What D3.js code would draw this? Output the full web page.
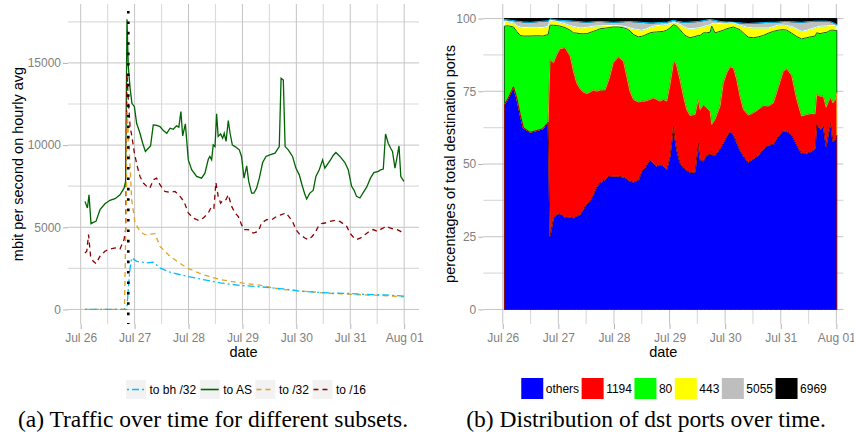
<!DOCTYPE html>
<html>
<head>
<meta charset="utf-8">
<script src="https://cdn.jsdelivr.net/npm/d3@7"></script>
<style>
  body { margin: 0; background: #fff; }
  svg { display: block; font-family: "Liberation Sans", Arial, sans-serif; }
</style>
</head>
<body>
<svg width="854" height="439"></svg>
<script>
// hours since Jul 26 00:00
const start = Date.UTC(2013, 6, 26);
const hr = h => new Date(start + h * 3600e3);

// --- (a) traffic, mbit/s hourly avg: [hour, value]
const toAS = [[1.9,6575],[3.0,6170],[3.7,6980],[4.6,5220],[5.6,5300],[6.8,5360],[8.6,6070],[10.8,6430],[13.0,6640],[15.3,6740],[17.5,6980],[19.3,7380],[20.0,7790],[20.6,17660],[21.2,14770],[22.0,13450],[22.8,12540],[23.9,12340],[24.9,11330],[26.4,10720],[27.6,10115],[28.8,9610],[30.1,9810],[31.1,9950],[32.3,11230],[33.5,11210],[35.3,11130],[36.8,10880],[38.3,10720],[39.8,11030],[41.2,10960],[42.7,11170],[43.7,11090],[44.6,12040],[45.4,10560],[46.6,11290],[47.9,9100],[49.4,8500],[51.6,8090],[53.8,7990],[55.3,8290],[56.8,9140],[57.5,9310],[58.3,9100],[59.0,10010],[59.8,9910],[60.5,11900],[61.2,10520],[62.3,10680],[63.2,10420],[63.9,10720],[64.7,10220],[65.7,11490],[66.5,10720],[67.5,10010],[68.7,9910],[69.7,9810],[70.6,9710],[71.6,9310],[72.7,7990],[73.9,8740],[74.8,7790],[76.1,7080],[77.1,7080],[78.3,7380],[79.5,7990],[81.0,8940],[82.5,9310],[84.2,9410],[86.5,9510],[88.4,9910],[89.2,14060],[90.2,13960],[91.0,9910],[92.4,9710],[94.3,9310],[95.8,8600],[97.3,8190],[98.5,7590],[99.7,7040],[100.6,6720],[102.0,7080],[103.5,7240],[104.7,8090],[106.2,8500],[107.7,9100],[108.7,8600],[110.2,8900],[111.2,9100],[112.4,9370],[113.6,9550],[115.4,9310],[117.6,8940],[119.1,8500],[120.6,7490],[121.6,7280],[122.8,6880],[124.3,6780],[126.1,7180],[127.3,7440],[129.0,7990],[130.5,8330],[132.5,8400],[133.5,8500],[134.7,8540],[135.7,10680],[136.9,10115],[138.0,9810],[138.8,9610],[139.9,8600],[140.6,9100],[141.7,9950],[142.5,8090],[143.9,7790]];
const to16 = [[1.9,3440],[2.7,3540],[3.5,4550],[4.4,3240],[5.6,2930],[6.8,2790],[8.6,3240],[10.8,3540],[13.0,3680],[15.3,3740],[17.5,3680],[19.3,4250],[20.0,4860],[20.6,14360],[21.2,12740],[22.0,11130],[22.8,10520],[23.9,9510],[25.2,8700],[26.4,8090],[27.9,7690],[29.4,7490],[30.8,7380],[32.3,7890],[33.8,7990],[35.3,7590],[37.5,7180],[39.8,7120],[42.0,7180],[44.2,6880],[46.0,6570],[47.9,5870],[50.1,5560],[52.4,5420],[54.6,5560],[56.8,5870],[58.3,6270],[59.3,6170],[60.2,7730],[61.2,6880],[62.3,6470],[63.5,6680],[64.7,6680],[65.7,6980],[67.2,6270],[68.7,5870],[70.1,5660],[71.6,5160],[72.7,4860],[74.6,4860],[76.8,4650],[79.1,4750],[80.5,5260],[82.8,5460],[85.0,5460],[87.2,5660],[89.4,5770],[91.4,5870],[93.2,5560],[94.6,5260],[95.8,4860],[97.6,4550],[99.8,4350],[101.3,4250],[102.8,4410],[104.3,4650],[105.8,5060],[107.2,5220],[108.7,5260],[110.9,5360],[113.2,5420],[115.4,5360],[118.4,5060],[119.8,4650],[121.3,4410],[122.8,4250],[124.6,4350],[126.5,4550],[128.5,4750],[130.2,4860],[132.0,4750],[133.9,4900],[136.2,5060],[137.6,4960],[139.1,4900],[140.9,4860],[142.4,4750],[143.9,4550]];
const to32 = [[1.9,0],[19.5,0],[20.2,6000],[20.7,12000],[21.9,8900],[22.7,6680],[24.2,5270],[26.4,4750],[28.6,4550],[33.1,4610],[35.3,3840],[39.7,3240],[47.2,2530],[54.4,2120],[62.0,1820],[69.4,1650],[79.8,1480],[85.7,1310],[90.2,1210],[94.6,1170],[99.1,1110],[103.5,1070],[108.0,1010],[112.4,970],[116.9,950],[121.3,910],[125.8,890],[130.2,870],[134.7,850],[139.1,810],[143.9,770]];
const toBh32 = [[1.9,0],[20.5,0],[21.2,1210],[21.9,2430],[22.7,3140],[24.9,2930],[29.4,2830],[32.3,2870],[35.3,2530],[39.7,2270],[47.2,2020],[54.6,1820],[62.0,1620],[70.9,1460],[79.8,1380],[90.2,1250],[97.6,1110],[104.6,1050],[112.4,990],[119.8,970],[127.3,910],[134.7,890],[143.9,810]];
const attackHour = 21.2;

const trafficNames  = ['to bh /32', 'to AS', 'to /32', 'to /16'];
const trafficData   = [toBh32, toAS, to32, to16];
const trafficColors = ['#00bfff', '#006400', '#e6a020', '#8b0000'];
const trafficDash   = ['2,3,7,3', null, '5,4', '5,4'];

const yTicksA = [0, 5000, 10000, 15000];
const yMinorA = [2500, 7500, 12500, 17500];

// --- (b) destination port shares, percent
const portHours = [0.7,2.4,4.6,6.0,7.5,8.9,11.8,14.7,17.3,19.6,20.4,21.9,23.3,24.7,26.9,29.1,30.5,31.9,33.4,34.8,36.3,37.7,39.1,40.6,42.0,44.2,46.0,47.7,49.9,52.1,53.5,54.9,56.4,58.6,60.0,61.4,63.6,65.0,66.4,67.9,69.3,70.8,72.2,73.7,74.4,75.1,76.5,78.0,79.4,80.8,83.0,84.4,85.2,86.6,88.0,89.5,90.2,91.6,93.8,95.2,96.7,98.1,99.6,101.0,102.4,103.9,106.0,108.2,110.3,112.5,114.7,116.8,119.0,121.1,122.6,124.7,126.9,129.0,131.2,133.4,134.8,135.5,137.0,138.4,139.6,140.6,141.6,142.5,143.5,144.2];
const pOthers = [70.4,72.7,76.5,72.7,67.0,62.4,60.9,61.5,62.1,64.4, 25.2,31.5,32.6,33.0,31.6,31.7,31.5,32.1,32.6,34.4, 36.4,37.2,39.5,42.2,43.5,44.7,46.0,45.8,45.8,45.5, 45.0,44.1,43.8,44.5,47.5,48.7,51.5,50.4,49.3,49.8, 49.4,48.1,52.7,63.0,58.4,55.0,50.4,48.7,47.9,47.0, 47.3,57.3,51.5,51.0,53.1,53.3,53.3,52.9,55.2,57.2, 59.5,61.2,60.1,57.4,54.8,52.7,50.6,51.8,52.9,55.2, 56.5,56.8,59.6,61.4,61.2,60.1,56.5,53.6,53.7,54.4, 55.2,63.6,61.9,63.0,56.1,60.7,64.1,57.8,58.4,59.8];
const p1194 = [0,0,0,0,0,0,0,0,0,0, 60.7,53.3,55.0,56.6,58.4,55.4,50.4,45.8,43.2,40.3, 37.8,37.5,35.9,32.8,31.9,30.8,33.5,39.0,41.0,39.8, 35.2,30.9,28.4,26.8,24.1,22.9,20.7,22.3,22.9,21.8, 22.8,23.5,24.6,21.8,26.9,28.6,28.6,24.6,20.8,19.7, 19.7,14.9,17.2,19.4,16.2,14.9,10.3,12.4,14.7,20.7, 21.8,22.2,22.9,21.6,18.5,16.0,16.2,15.8,15.8,14.9, 13.4,14.2,16.9,20.5,21.5,20.4,15.7,12.9,13.3,13.0, 12.0,10.3,11.4,10.3,13.4,10.8,8.9,13.2,13.6,14.7];
const p80 = [27.0,24.8,20.6,22.9,27.2,31.6,33.1,32.6,31.9,30.1, 11.8,12.9,10.0,7.8,6.9,8.9,13.2,17.1,19.0,20.1, 20.6,20.5,20.2,21.0,21.1,21.2,17.4,12.3,10.3,11.5, 16.3,20.8,22.3,22.4,22.3,22.7,22.9,22.6,23.2,23.9, 23.4,24.4,19.5,13.1,12.4,13.8,17.2,21.4,25.2,26.7, 26.8,22.0,25.5,24.7,25.8,27.1,33.8,29.8,25.7,18.1, 15.2,13.4,14.1,17.6,22.9,26.3,26.8,25.8,25.0,24.1, 25.1,24.6,19.5,14.3,13.3,14.5,21.6,26.5,26.4,26.4, 26.8,21.2,21.5,21.8,25.7,24.1,23.0,25.0,23.9,21.4];
const p443 = [1.7,1.4,1.4,2.0,2.9,2.9,3.0,2.9,2.9,2.9, 1.7,1.5,1.4,1.3,1.3,1.6,2.2,2.1,2.0,2.1, 2.2,2.0,1.8,1.5,1.0,0.9,0.7,0.5,0.5,0.6, 0.7,1.0,2.0,2.5,2.1,2.0,1.9,2.1,2.2,2.2, 2.2,1.9,1.5,0.8,0.9,1.0,1.8,2.6,2.9,3.1, 2.9,2.6,2.7,2.2,2.5,2.6,0.9,3.3,2.7,2.4, 1.9,1.7,1.4,1.5,1.5,2.4,3.3,3.4,3.1,2.6, 1.8,1.7,1.8,1.6,1.6,2.3,2.7,2.6,2.6,2.8, 2.9,2.0,2.6,2.4,2.3,2.0,1.6,1.6,1.6,1.5];
const p5055 = [0.6,0.6,0.8,1.5,1.9,1.9,1.7,1.9,2.2,1.8, 0.5,0.5,0.5,0.7,1.1,1.6,1.8,1.9,2.1,1.9, 1.7,1.6,1.5,1.5,1.5,1.3,1.2,1.1,1.2,1.5, 1.8,2.2,2.4,2.6,2.7,2.3,1.5,1.1,1.0,0.9, 0.9,0.8,0.8,0.7,0.7,0.7,0.9,1.4,1.9,2.3, 2.2,2.2,2.2,2.0,1.9,1.8,1.3,1.0,0.7,0.5, 0.4,0.3,0.2,0.5,0.8,1.0,1.4,1.6,1.7,1.8, 1.9,1.4,1.0,1.2,1.4,1.6,2.3,3.1,2.9,2.4, 2.2,2.0,1.7,1.6,1.6,1.4,1.3,1.0,0.8,0.5];
const p6969 = [0.3,0.5,0.7,0.9,1.0,1.2,1.3,1.1,0.9,0.8, 0.1,0.3,0.5,0.6,0.7,0.8,0.9,1.0,1.1,1.2, 1.3,1.2,1.1,1.0,1.0,1.1,1.2,1.3,1.2,1.1, 1.0,1.0,1.1,1.2,1.3,1.4,1.5,1.5,1.4,1.4, 1.3,1.3,0.9,0.6,0.7,0.9,1.1,1.3,1.3,1.2, 1.1,1.0,0.9,0.7,0.5,0.3,0.4,0.6,1.0,1.1, 1.2,1.2,1.3,1.4,1.5,1.6,1.7,1.6,1.5,1.4, 1.3,1.3,1.2,1.0,1.0,1.1,1.2,1.3,1.1,1.0, 0.9,0.9,0.9,0.9,0.9,1.0,1.1,1.4,1.7,2.1];

const ports       = ['others', '1194', '80', '443', '5055', '6969'];
const portValues  = [pOthers, p1194, p80, p443, p5055, p6969];
const portColors  = ['#0000ff', '#ff0000', '#00ff00', '#ffff00', '#bebebe', '#000000'];
const portOutline = ['#8b0000', '#e6a020', '#006400', '#ffffff', '#00bfff', '#000000'];

const yTicksB = [0, 25, 50, 75, 100];
const yMinorB = [12.5, 37.5, 62.5, 87.5];

const svg = d3.select('svg');
const fmt = d3.utcFormat('%b %d');
const gridMajor = '#c4c4c4', gridMinor = '#dcdcdc', tickGrey = '#b3b3b3', textGrey = '#7f7f7f';

function panel(box, x, y, yMajor, yMinor) {
  const g = svg.append('g');
  const days = d3.utcDay.range(x.domain()[0], x.domain()[1]);
  const halves = d3.utcHour.every(12).range(x.domain()[0], x.domain()[1]).filter(d => d.getUTCHours() === 12);
  g.selectAll('.hmin').data(yMinor).join('line')
    .attr('x1', box.x0).attr('x2', box.x1).attr('y1', d => y(d)).attr('y2', d => y(d))
    .attr('stroke', gridMinor).attr('stroke-width', 1.2);
  g.selectAll('.vmin').data(halves).join('line')
    .attr('x1', d => x(d)).attr('x2', d => x(d)).attr('y1', box.y0).attr('y2', box.y1)
    .attr('stroke', gridMinor).attr('stroke-width', 1.2);
  g.selectAll('.hmaj').data(yMajor).join('line')
    .attr('x1', box.x0).attr('x2', box.x1).attr('y1', d => y(d)).attr('y2', d => y(d))
    .attr('stroke', gridMajor).attr('stroke-width', 1);
  g.selectAll('.vmaj').data(days).join('line')
    .attr('x1', d => x(d)).attr('x2', d => x(d)).attr('y1', box.y0).attr('y2', box.y1)
    .attr('stroke', gridMajor).attr('stroke-width', 1);

  const ax = svg.append('g').attr('transform', `translate(0,${box.y1})`)
    .call(d3.axisBottom(x).tickValues(days).tickFormat(fmt).tickSize(5).tickPadding(4));
  const ay = svg.append('g').attr('transform', `translate(${box.x0},0)`)
    .call(d3.axisLeft(y).tickValues(yMajor).tickFormat(d3.format('d')).tickSize(5).tickPadding(2));
  [ax, ay].forEach(a => {
    a.select('.domain').remove();
    a.selectAll('line').attr('stroke', tickGrey);
    a.selectAll('text').attr('fill', textGrey).style('font-size', '12px')
      .style('font-family', '"Liberation Sans", Arial, sans-serif');
  });
  svg.append('text').attr('x', (box.x0 + box.x1) / 2).attr('y', 357)
    .attr('text-anchor', 'middle').style('font-size', '14.5px').text('date');
}

// ---------- panel (a)
const boxA = {x0: 68, x1: 419, y0: 4, y1: 324};
const xA = d3.scaleUtc().domain([hr(-5.65), hr(150.6)]).range([boxA.x0, boxA.x1]);
const yA = d3.scaleLinear().domain([-885, 18585]).range([boxA.y1, boxA.y0]);
panel(boxA, xA, yA, yTicksA, yMinorA);

const line = d3.line().x(d => xA(hr(d[0]))).y(d => yA(d[1]));
[1, 3, 2, 0].forEach(i => {
  svg.append('path').datum(trafficData[i]).attr('d', line)
    .attr('fill', 'none').attr('stroke', trafficColors[i]).attr('stroke-width', 1.3)
    .attr('stroke-dasharray', trafficDash[i]);
});
svg.append('line')
  .attr('x1', xA(hr(attackHour))).attr('x2', xA(hr(attackHour)))
  .attr('y1', boxA.y0 + 7).attr('y2', boxA.y1)
  .attr('stroke', '#000').attr('stroke-width', 2.6)
  .attr('stroke-dasharray', '2.6,7.8');

svg.append('text')
  .attr('transform', `translate(18,${(boxA.y0 + boxA.y1) / 2}) rotate(-90)`)
  .attr('dy', '0.35em').attr('text-anchor', 'middle').style('font-size', '14.5px')
  .text('mbit per second on hourly avg');

// legend (a)
{
  const g = svg.append('g');
  let cx = 0;
  trafficNames.forEach((name, i) => {
    const item = g.append('g').attr('transform', `translate(${cx},0)`);
    item.append('rect').attr('x', 0).attr('y', 380).attr('width', 20).attr('height', 19).attr('fill', '#f2f2f2');
    item.append('line').attr('x1', 1).attr('x2', 19).attr('y1', 389.5).attr('y2', 389.5)
      .attr('stroke', trafficColors[i]).attr('stroke-width', 1.6)
      .attr('stroke-dasharray', trafficDash[i]);
    const t = item.append('text').attr('x', 23.5).attr('y', 394).style('font-size', '12px').text(name);
    cx += 23.5 + t.node().getComputedTextLength() + 3.5;
  });
  const w = cx - 3.5;
  g.attr('transform', `translate(${246 - w / 2},0)`);
}

// ---------- panel (b)
const boxB = {x0: 483.3, x1: 843.3, y0: 4, y1: 324};
const xB = d3.scaleUtc().domain([hr(-8.4), hr(147)]).range([boxB.x0, boxB.x1]);
const yB = d3.scaleLinear().domain([-5, 105]).range([boxB.y1, boxB.y0]);
panel(boxB, xB, yB, yTicksB, yMinorB);

const rows = portHours.map((h, i) => {
  const r = {date: hr(h)};
  ports.forEach((p, k) => r[p] = portValues[k][i]);
  return r;
});
const layers = d3.stack().keys(ports)(rows);
const area = d3.area().x(d => xB(d.data.date)).y0(d => yB(d[0])).y1(d => yB(d[1]));
svg.append('g').selectAll('path').data(layers).join('path')
  .attr('d', area).attr('fill', (d, i) => portColors[i]);
svg.append('g').selectAll('path').data(layers.slice().reverse()).join('path')
  .attr('d', area).attr('fill', 'none').attr('stroke-width', 1)
  .attr('stroke', d => portOutline[d.index]);

svg.append('text')
  .attr('transform', `translate(450,${(boxB.y0 + boxB.y1) / 2}) rotate(-90)`)
  .attr('dy', '0.35em').attr('text-anchor', 'middle').style('font-size', '14.5px')
  .text('percentages of total destination ports');

// legend (b)
{
  const g = svg.append('g');
  let cx = 0;
  ports.forEach((name, i) => {
    const item = g.append('g').attr('transform', `translate(${cx},0)`);
    item.append('rect').attr('x', 0).attr('y', 378).attr('width', 22).attr('height', 21).attr('fill', portColors[i]);
    const t = item.append('text').attr('x', 24.5).attr('y', 393).style('font-size', '12px').text(name);
    cx += 24.5 + t.node().getComputedTextLength() + 2.5;
  });
  const w = cx - 2.5;
  g.attr('transform', `translate(${674 - w / 2},0)`);
}

// captions
svg.append('text').attr('x', 213).attr('y', 427).attr('text-anchor', 'middle')
  .style('font-family', '"Liberation Serif", "Times New Roman", serif').style('font-size', '23.5px')
  .text('(a) Traffic over time for different subsets.');
svg.append('text').attr('x', 646).attr('y', 427).attr('text-anchor', 'middle')
  .style('font-family', '"Liberation Serif", "Times New Roman", serif').style('font-size', '23.5px')
  .text('(b) Distribution of dst ports over time.');
</script>
</body>
</html>
